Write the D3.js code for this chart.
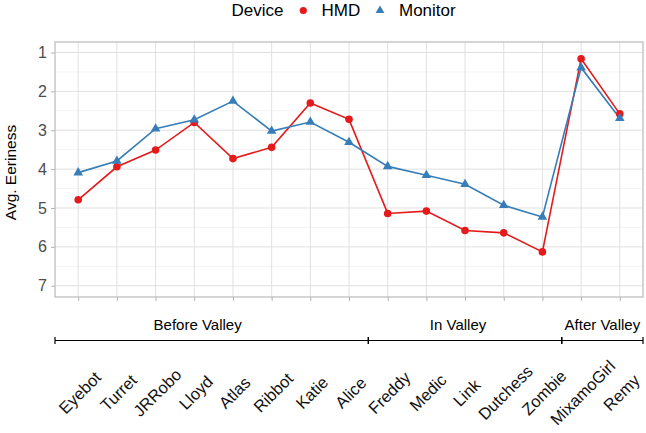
<!DOCTYPE html>
<html>
<head>
<meta charset="utf-8">
<script src="https://cdn.jsdelivr.net/npm/d3@7"></script>
<style>
body { margin: 0; background: #fff; }
text { font-family: "Liberation Sans", Arial, Helvetica, sans-serif; }
</style>
</head>
<body>
<div id="chart"></div>
<script>

// Data
var robots = ["Eyebot", "Turret", "JRRobo", "Lloyd", "Atlas", "Ribbot", "Katie", "Alice",
    "Freddy", "Medic", "Link", "Dutchess", "Zombie", "MixamoGirl", "Remy"];
var hmd = [4.79, 3.94, 3.51, 2.80, 3.73, 3.44, 2.30, 2.72, 5.14, 5.08, 5.58, 5.64, 6.13, 1.16, 2.58];
var monitor = [4.09, 3.79, 2.96, 2.73, 2.25, 3.02, 2.79, 3.31, 3.93, 4.16, 4.39, 4.93, 5.23, 1.39, 2.69];
var devices = ["HMD", "Monitor"];
var groups = ["Before Valley", "In Valley", "After Valley"];
var groupFirst = ["Eyebot", "Freddy", "MixamoGirl"];
var groupLast = ["Alice", "Zombie", "Remy"];
var yTicks = [1, 2, 3, 4, 5, 6, 7];
var yMinor = [1.5, 2.5, 3.5, 4.5, 5.5, 6.5];


// Layout
var width = 646,
    height = 433;
var panel = { left: 55, right: 643, top: 42, bottom: 297 };
var colors = { HMD: "#e41a1c", Monitor: "#377eb8" };
var groupNudge = [-14, -7, 0];   // label offsets, as in the original

var svg = d3.select("#chart").append("svg")
    .attr("width", width)
    .attr("height", height);


// Scales
var x = d3.scalePoint()
    .domain(robots)
    .range([panel.left, panel.right])
    .padding(0.6);

var y = d3.scaleLinear()
    .domain([0.73, 7.29])
    .range([panel.top, panel.bottom]);

var step = x.step();


// Grid
svg.append("g").selectAll("line.minor")
    .data(yMinor)
    .enter().append("line")
    .attr("x1", panel.left).attr("x2", panel.right)
    .attr("y1", function(d) { return y(d); })
    .attr("y2", function(d) { return y(d); })
    .attr("stroke", "#f0f0f0")
    .attr("stroke-width", 0.8);

svg.append("g").selectAll("line.major")
    .data(yTicks)
    .enter().append("line")
    .attr("x1", panel.left).attr("x2", panel.right)
    .attr("y1", function(d) { return y(d); })
    .attr("y2", function(d) { return y(d); })
    .attr("stroke", "#e0e0e0")
    .attr("stroke-width", 1);

svg.append("g").selectAll("line.vgrid")
    .data(robots)
    .enter().append("line")
    .attr("x1", function(d) { return x(d); })
    .attr("x2", function(d) { return x(d); })
    .attr("y1", panel.top).attr("y2", panel.bottom)
    .attr("stroke", "#e0e0e0")
    .attr("stroke-width", 1);

svg.append("rect")
    .attr("x", panel.left)
    .attr("y", panel.top)
    .attr("width", panel.right - panel.left)
    .attr("height", panel.bottom - panel.top)
    .attr("fill", "none")
    .attr("stroke", "#c4c4c4")
    .attr("stroke-width", 1.4);


// Y axis
var yAxis = svg.append("g")
    .attr("transform", "translate(" + panel.left + ",0)")
    .call(d3.axisLeft(y).tickValues(yTicks).tickSize(4).tickPadding(4).tickFormat(d3.format("d")));
yAxis.select(".domain").remove();
yAxis.selectAll(".tick line").attr("stroke", "#b3b3b3");
yAxis.selectAll(".tick text")
    .attr("fill", "#4d4d4d")
    .style("font-size", "16px");

svg.append("text")
    .attr("transform", "translate(16," + ((panel.top + panel.bottom) / 2 + 3) + ") rotate(-90)")
    .attr("text-anchor", "middle")
    .style("font-size", "15.5px")
    .attr("fill", "#000")
    .text("Avg. Eeriness");


// X ticks
var xAxis = svg.append("g")
    .attr("transform", "translate(0," + panel.bottom + ")")
    .call(d3.axisBottom(x).tickSize(4).tickFormat(""));
xAxis.select(".domain").remove();
xAxis.selectAll(".tick line").attr("stroke", "#b3b3b3");

svg.append("g").selectAll("text.robot")
    .data(robots)
    .enter().append("text")
    .attr("transform", function(d) { return "translate(" + (x(d) + 1.5) + ",392.5) rotate(-45)"; })
    .attr("text-anchor", "middle")
    .attr("dominant-baseline", "central")
    .style("font-size", "16.5px")
    .attr("fill", "#111")
    .text(function(d) { return d; });


// Group brackets
var bracketY = 340.5;
var bracket = svg.append("g");
groups.forEach(function(g, i) {
    var x0 = x(groupFirst[i]) - step / 2,
        x1 = x(groupLast[i]) + step / 2;
    if (i === 0) x0 = panel.left;
    if (i === groups.length - 1) x1 = panel.right;
    bracket.append("line")
        .attr("x1", x0).attr("x2", x1)
        .attr("y1", bracketY).attr("y2", bracketY)
        .attr("stroke", "#000").attr("stroke-width", 1.2);
    [x0, x1].forEach(function(xx) {
        bracket.append("line")
            .attr("x1", xx).attr("x2", xx)
            .attr("y1", bracketY - 3.5).attr("y2", bracketY + 3.5)
            .attr("stroke", "#000").attr("stroke-width", 1.2);
    });
    bracket.append("text")
        .attr("x", (x0 + x1) / 2 + groupNudge[i])
        .attr("y", 329.5)
        .attr("text-anchor", "middle")
        .style("font-size", "15px")
        .attr("fill", "#000")
        .text(g);
});


// Lines and points
var series = [
    { key: "HMD", values: hmd },
    { key: "Monitor", values: monitor }
];

var line = d3.line()
    .x(function(d, i) { return x(robots[i]); })
    .y(function(d) { return y(d); });

svg.append("g").selectAll("path.series")
    .data(series)
    .enter().append("path")
    .attr("d", function(d) { return line(d.values); })
    .attr("fill", "none")
    .attr("stroke", function(d) { return colors[d.key]; })
    .attr("stroke-width", 1.6);

var tri = d3.symbol().type(d3.symbolTriangle).size(40);

svg.append("g").selectAll("circle.hmd")
    .data(hmd)
    .enter().append("circle")
    .attr("cx", function(d, i) { return x(robots[i]); })
    .attr("cy", function(d) { return y(d); })
    .attr("r", 3.8)
    .attr("fill", colors.HMD);

svg.append("g").selectAll("path.monitor")
    .data(monitor)
    .enter().append("path")
    .attr("transform", function(d, i) { return "translate(" + x(robots[i]) + "," + y(d) + ")"; })
    .attr("d", tri)
    .attr("fill", colors.Monitor);


// Legend
var legend = svg.append("g").style("font-size", "17px");
legend.append("text").attr("x", 231.5).attr("y", 16).text("Device");
legend.append("circle").attr("cx", 303.3).attr("cy", 10.5).attr("r", 3.6).attr("fill", colors.HMD);
legend.append("text").attr("x", 321.5).attr("y", 16).text(devices[0]);
legend.append("path")
    .attr("transform", "translate(380,10.5)")
    .attr("d", d3.symbol().type(d3.symbolTriangle).size(34))
    .attr("fill", colors.Monitor);
legend.append("text").attr("x", 399).attr("y", 16).text(devices[1]);

</script>
</body>
</html>
